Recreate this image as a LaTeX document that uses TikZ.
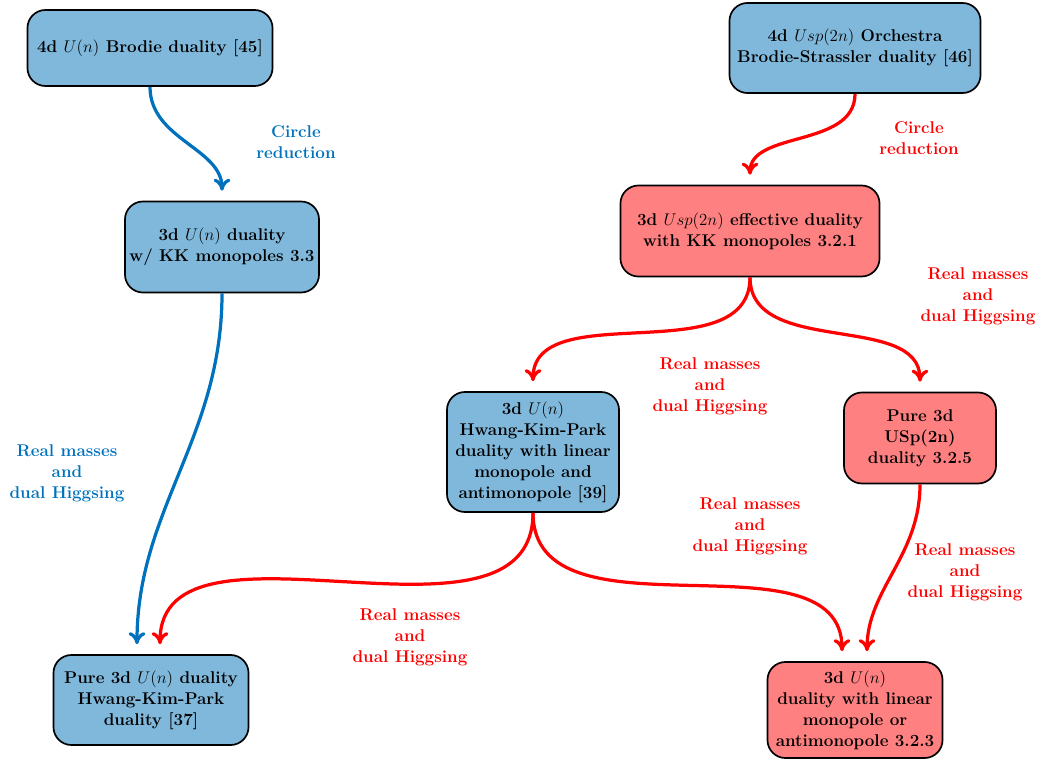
\documentclass[tikz,border=0pt]{standalone}
\usetikzlibrary{arrows.meta}
\definecolor{boxblue}{RGB}{127,184,219}
\definecolor{boxred}{RGB}{255,128,128}
\definecolor{lineblue}{RGB}{0,114,189}
\begin{document}
\begin{tikzpicture}[x=0.025cm,y=-0.025cm,
  font=\fontsize{12.1}{15}\selectfont\bfseries,
  box/.style={draw=black, line width=1.2pt, rounded corners=0.45cm, align=center, inner sep=2pt},
  bluebox/.style={box, fill=boxblue},
  redbox/.style={box, fill=boxred},
  flow/.style={line width=2.3pt, -{To[length=3mm,width=4.2mm]}, shorten >=0.25cm},
  blueflow/.style={flow, draw=lineblue},
  redflow/.style={flow, draw=red},
  bluelabel/.style={text=lineblue, align=center},
  redlabel/.style={text=red, align=center}]
\useasboundingbox (0,0) rectangle (1051,760);

% duality boxes
\node[bluebox, minimum width=6.125cm, minimum height=1.9cm] (A) at (150,48)
  {4d $U(n)$ Brodie duality [45]};
\node[bluebox, minimum width=6.275cm, minimum height=2.25cm] (B) at (855,48)
  {4d $Usp(2n)$ Orchestra\\Brodie-Strassler duality [46]};
\node[bluebox, minimum width=4.85cm, minimum height=2.275cm] (C) at (222,247)
  {3d $U(n)$ duality\\w/ KK monopoles 3.3};
\node[redbox, minimum width=6.475cm, minimum height=2.275cm] (D) at (750,231)
  {3d $Usp(2n)$ effective duality\\with KK monopoles 3.2.1};
\node[bluebox, minimum width=4.3cm, minimum height=3.0cm] (E) at (533,452)
  {3d $U(n)$\\Hwang-Kim-Park\\duality with linear\\monopole and\\antimonopole [39]};
\node[redbox, minimum width=3.8cm, minimum height=2.275cm] (F) at (920,438)
  {Pure 3d\\USp(2n)\\duality 3.2.5};
\node[bluebox, minimum width=4.875cm, minimum height=2.25cm] (G) at (151,700)
  {Pure 3d $U(n)$ duality\\Hwang-Kim-Park\\duality [37]};
\node[redbox, minimum width=4.375cm, minimum height=2.4cm] (H) at (855,710)
  {3d $U(n)$\\duality with linear\\monopole or\\antimonopole 3.2.3};

% connectors
\draw[blueflow] (A.south) to[out=-90,in=90] (C.north);
\draw[blueflow] (C.south) to[out=-90,in=90] ([xshift=-0.35cm]G.north);
\draw[redflow] (B.south) to[out=-90,in=90] (D.north);
\draw[redflow] (D.south) to[out=-90,in=90] (E.north);
\draw[redflow] (D.south) to[out=-90,in=90] (F.north);
\draw[redflow] (E.south) to[out=-90,in=90] ([xshift=0.225cm]G.north);
\draw[redflow] (E.south) to[out=-90,in=90] ([xshift=-0.325cm]H.north);
\draw[redflow] (F.south) to[out=-90,in=90] ([xshift=0.3cm]H.north);

% connector labels
\node[bluelabel] (l1) at (296,142) {Circle\\reduction};
\node[redlabel] (l2) at (919,138) {Circle\\reduction};
\node[bluelabel] (l3) at (67,473) {Real masses\\and\\dual Higgsing};
\node[redlabel] (l4) at (710,386) {Real masses\\and\\dual Higgsing};
\node[redlabel] (l5) at (978,296) {Real masses\\and\\dual Higgsing};
\node[redlabel] (l6) at (410,637) {Real masses\\and\\dual Higgsing};
\node[redlabel] (l7) at (750,526) {Real masses\\and\\dual Higgsing};
\node[redlabel] (l8) at (965,572) {Real masses\\and\\dual Higgsing};
\end{tikzpicture}
\end{document}
